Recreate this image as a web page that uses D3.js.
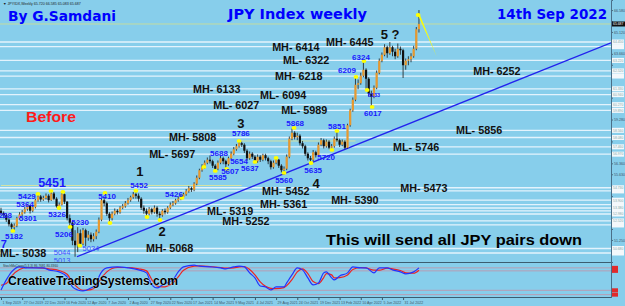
<!DOCTYPE html>
<html>
<head>
<meta charset="utf-8">
<script src="https://cdn.jsdelivr.net/npm/d3@7"></script>
<style>
html, body { margin: 0; padding: 0; background: #87ceeb; }
svg { display: block; font-family: "Liberation Sans", Arial, sans-serif; }
</style>
</head>
<body>
<svg id="chart" width="625" height="306"></svg>
<script>
// weekly JPY index, first bar = week of 1 Sep 2019
const firstWeek = '2019-09-01';
const firstOpen = 53.20;
const closes = [
  53.05, 52.90, 52.60, 52.30, 52.10, 52.20, 52.70, 52.95, 53.10, 53.30,
  53.55, 53.20, 53.45, 53.90, 54.15, 53.95, 54.05, 54.20, 53.90, 54.35,
  54.00, 53.50, 53.60, 54.30, 53.80, 52.70, 52.40, 51.20, 50.90, 51.70,
  51.00, 51.90, 51.40, 51.60, 51.30, 51.50, 51.80, 52.60, 53.90, 53.70,
  53.00, 52.70, 53.00, 53.20, 53.10, 53.40, 53.50, 53.70, 53.90, 54.10,
  54.30, 54.20, 54.00, 53.40, 53.20, 53.00, 53.30, 53.10, 53.40, 53.00,
  52.90, 53.20, 53.10, 53.40, 53.60, 53.70, 53.90, 54.00, 54.10, 54.30,
  54.50, 54.70, 54.60, 55.00, 55.40, 55.90, 56.10, 56.40, 56.60, 56.50,
  56.20, 56.00, 56.40, 56.70, 56.50, 56.30, 56.70, 57.00, 57.30, 57.50,
  57.70, 57.60, 57.20, 56.70, 57.00, 56.80, 56.50, 56.80, 56.60, 56.90,
  56.70, 56.50, 56.10, 56.40, 56.60, 56.20, 55.90, 56.00, 56.80, 58.00,
  58.40, 58.10, 58.20, 57.70, 57.50, 57.00, 56.70, 56.60, 57.10, 56.90,
  57.60, 57.90, 57.50, 57.80, 57.40, 57.50, 58.00, 57.90, 57.60, 57.80,
  57.40, 58.90, 59.90, 60.60, 61.60, 61.70, 62.20, 62.60, 62.00, 61.00,
  60.80, 61.40, 62.40, 63.20, 63.60, 64.10, 63.70, 64.10, 63.80, 63.50,
  64.00, 63.90, 62.90, 63.20, 63.30, 63.50, 64.00, 65.30, 65.65
];
const highs = [
  53.40, 53.15, 53.00, 52.70, 52.40, 52.35, 52.80, 53.10, 53.25, 53.45,
  53.64, 53.60, 53.55, 54.00, 54.29, 54.25, 54.20, 54.35, 54.30, 54.51,
  54.45, 54.10, 53.75, 54.40, 54.35, 53.85, 52.95, 52.50, 51.90, 52.10,
  51.95, 52.05, 52.00, 51.85, 51.75, 51.70, 51.95, 52.75, 54.00, 54.10,
  53.80, 53.10, 53.15, 53.35, 53.30, 53.50, 53.65, 53.85, 54.05, 54.20,
  54.45, 54.52, 54.35, 54.10, 53.55, 53.35, 53.45, 53.40, 53.55, 53.50,
  53.15, 53.30, 53.35, 53.50, 53.75, 53.85, 54.00, 54.15, 54.26, 54.40,
  54.65, 54.85, 54.80, 55.10, 55.55, 56.00, 56.30, 56.55, 56.75, 56.88,
  56.60, 56.30, 56.55, 56.85, 56.80, 56.60, 56.80, 57.15, 57.45, 57.65,
  57.86, 57.80, 57.70, 57.30, 57.15, 57.10, 56.90, 56.95, 56.90, 57.00,
  57.00, 56.80, 56.60, 56.55, 56.72, 56.65, 56.30, 56.15, 56.95, 58.15,
  58.68, 58.50, 58.40, 58.30, 57.85, 57.60, 57.10, 56.85, 57.25, 57.20,
  57.75, 58.05, 58.00, 57.95, 57.90, 57.65, 58.15, 58.51, 58.00, 57.95,
  57.90, 59.00, 60.00, 60.75, 62.09, 61.95, 62.40, 63.24, 62.70, 62.10,
  61.20, 61.55, 62.55, 63.35, 63.75, 64.30, 64.20, 64.45, 64.20, 64.00,
  64.35, 64.15, 64.00, 63.35, 63.50, 63.70, 64.20, 65.45, 66.58
];
const lows = [
  52.90, 52.70, 52.45, 52.15, 51.95, 51.82, 52.10, 52.60, 52.85, 53.00,
  53.20, 53.01, 53.10, 53.35, 53.80, 53.80, 53.85, 53.95, 53.75, 53.85,
  53.90, 53.40, 53.26, 53.55, 53.65, 52.55, 52.06, 50.90, 50.13, 50.44,
  50.85, 50.90, 50.85, 51.20, 51.10, 51.15, 51.30, 51.70, 52.50, 53.50,
  52.85, 52.38, 52.55, 52.90, 52.95, 53.00, 53.30, 53.40, 53.60, 53.80,
  54.00, 54.00, 53.80, 53.25, 53.00, 52.78, 52.90, 52.95, 53.00, 52.80,
  52.58, 52.80, 52.95, 53.00, 53.30, 53.50, 53.60, 53.80, 53.90, 54.00,
  54.20, 54.40, 54.45, 54.50, 54.90, 55.30, 55.80, 56.00, 56.30, 56.35,
  56.05, 55.85, 55.90, 56.30, 56.30, 56.07, 56.20, 56.60, 56.90, 57.20,
  57.40, 57.45, 57.05, 56.54, 56.60, 56.65, 56.37, 56.40, 56.45, 56.50,
  56.55, 56.30, 55.95, 56.00, 56.30, 56.05, 55.75, 55.60, 55.90, 56.70,
  57.90, 57.95, 57.90, 57.55, 57.35, 56.85, 56.55, 56.35, 56.50, 56.75,
  56.80, 57.50, 57.35, 57.40, 57.30, 57.20, 57.40, 57.80, 57.45, 57.50,
  57.30, 57.35, 58.80, 59.80, 60.50, 61.30, 61.60, 62.10, 61.33, 60.80,
  60.17, 60.70, 61.30, 62.30, 63.10, 63.50, 63.40, 63.60, 63.50, 63.30,
  63.40, 63.60, 62.05, 62.60, 62.90, 63.10, 63.40, 63.90, 65.08
];

// horizontal MH / ML levels: price, text, week where the text starts
const levelPrices = [64.45, 64.14, 63.22, 62.52, 62.18, 61.33, 60.94, 60.27, 59.89, 58.56, 58.08,
  57.46, 56.97, 54.73, 54.52, 53.90, 53.61, 53.19, 52.52, 50.68, 50.38];
const levelTexts = ['MH- 6445', 'MH- 6414', 'ML- 6322', 'MH- 6252', 'MH- 6218', 'MH- 6133', 'ML- 6094',
  'ML- 6027', 'ML- 5989', 'ML- 5856', 'MH- 5808', 'ML- 5746', 'ML- 5697', 'MH- 5473', 'MH- 5452',
  'MH- 5390', 'MH- 5361', 'ML- 5319', 'MH- 5252', 'MH- 5068', 'ML- 5038'];
const levelTextWeeks = [122.9, 102.5, 106.6, 178.5, 103.6, 72.6, 97.9, 80.2, 105.9, 172, 63.5,
  148.2, 56, 150.9, 98.7, 124.8, 97.9, 77.9, 83.6, 54.8, -0.4];
const extraLevels = [53.38, 52.98, 52.25];
const currentPrice = 65.65;

// short pale lines: price, from week, to week
const paleLines = [[54.88, 0, 91], [57.85, 90, 134]];

// blue pivot labels: text, week, price (text centre)
const pivotTexts = ['5429', '5364', '5288', '5301', '5326', '5182', '5230', '5206', '5410', '5452',
  '5426', '5688', '5786', '5654', '5607', '5585', '5637', '5560', '5868', '5720', '5635', '5851',
  '6017', '6209', '6324'];
const pivotWeeks = [9.8, 9.1, 0.8, 10.2, 21.2, 4.9, 29.9, 23.8, 40.1, 52.2,
  65.4, 82.4, 90.7, 90, 86.6, 82, 94.1, 107, 111.2, 122.9, 118, 127,
  140.6, 130.8, 136.1];
const pivotPrices = [54.18, 53.65, 52.92, 52.72, 52.98, 51.52, 52.45, 51.65, 54.18, 54.92,
  54.32, 57.05, 58.38, 56.52, 55.85, 55.45, 56.05, 55.25, 59.05, 56.78, 55.92, 58.85,
  59.72, 62.58, 63.45];
const faintTexts = [['5044', 23.1, 50.45], ['5013', 23.1, 49.92], ['5034', 34, 50.72]];
const bigPivot = ['5451', 19.3, 55.05];
const smallPivot = ['6133', 141, 60.92];

// yellow pivot dots: week, price
const dotWeeks = [4.5, 14, 18.9, 21.9, 23.4, 26.1, 29.8, 39.3, 41.2, 51, 55.2, 60.1, 68.4,
  76.7, 81, 85.3, 90, 96, 104, 107, 110.8, 117.2, 125.1, 127, 134.2, 137.2, 138.4, 140.3, 157.7];
const dotPrices = [51.85, 54.32, 54.52, 53.38, 54.45, 52.12, 50.87, 54.38, 52.38, 54.53, 52.78, 52.58, 54.05,
  56.12, 55.85, 55.98, 57.85, 56.45, 56.72, 55.72, 58.72, 56.38, 57.25, 58.52, 62.12, 63.18, 61.25, 60.12, 66.25];

// elliott wave counts: text, week, price
const waveTexts = ['1', '2', '3', '4', '5 ?'];
const waveWeeks = [52.5, 60.9, 90.7, 119.1, 147.1];
const wavePrices = [55.85, 51.85, 59.05, 55.05, 64.98];
const sevenMark = ['7', 1.1, 51.0];

const trendWeeks = [28.7, 230.6];
const trendPrices = [50.13, 64.40];
const spikeWeeks = [157.5, 158.6, 164.8];
const spikePrices = [66.30, 66.15, 63.45];

const priceTicks = [66.58, 65.85, 65.12, 64.39, 63.66, 62.93, 62.20, 61.47, 60.74, 60.01, 59.28,
  58.55, 57.82, 57.09, 56.36, 55.63, 54.90, 54.17, 53.44, 52.71, 51.98, 51.25, 50.52];
const dateTicks = ['2019-09-01', '2019-10-27', '2019-12-22', '2020-02-16', '2020-04-12', '2020-06-07',
  '2020-08-02', '2020-09-27', '2020-11-22', '2021-01-17', '2021-03-14', '2021-05-09', '2021-07-04',
  '2021-08-29', '2021-10-24', '2021-12-19', '2022-02-13', '2022-04-10', '2022-06-05', '2022-07-31'];

// stochastic panel
const oscWeeks = [0, 2, 4, 7, 10, 16, 18, 22, 25, 27, 29, 31, 34, 36, 37, 40, 44, 48, 52, 55, 57, 59,
  61, 65, 67, 69, 73, 75, 79, 83, 85, 88, 90, 92, 94, 96, 98, 100, 102, 104, 107, 108, 110, 112,
  114, 116, 118, 120, 122, 123, 125, 126, 128, 131, 133, 136, 138, 141, 143, 146, 148, 151, 153, 156, 158];
const oscFast = [21, 51, 75, 90, 87, 87, 81, 75, 60, 30, 21, 18, 27, 36, 60, 87, 90, 87, 81, 72, 36, 27,
  36, 51, 75, 90, 95, 92, 90, 87, 84, 90, 92, 90, 72, 57, 33, 30, 21, 30, 30, 42, 66, 87,
  81, 57, 36, 42, 72, 75, 57, 51, 63, 72, 90, 87, 87, 72, 87, 87, 81, 75, 69, 75, 87];
const oscSlow = [35, 40, 62, 82, 88, 86, 84, 79, 68, 45, 28, 20, 22, 30, 45, 75, 88, 88, 84, 78, 52, 33,
  30, 42, 60, 80, 92, 93, 91, 88, 86, 87, 90, 91, 82, 66, 45, 32, 26, 25, 28, 34, 52, 75,
  84, 70, 46, 40, 58, 70, 66, 57, 58, 66, 82, 88, 87, 80, 80, 86, 84, 79, 72, 71, 80];
const oscLevels = [87, 78, 20, 7];

const W = 625, H = 306;
const plotRight = 611, mainBottom = 262, oscTop = 263, oscBottom = 297;
const WEEK = 7 * 864e5;
const start = d3.timeParse('%Y-%m-%d')(firstWeek);
const atWeek = w => new Date(+start + w * WEEK);

const svg = d3.select('#chart');
const x = d3.scaleTime().domain([start, atWeek(230.6)]).range([1, plotRight]);
const y = d3.scaleLinear().domain([49.78, 67.25]).range([mainBottom, 0]);
const oy = d3.scaleLinear().domain([0, 100]).range([oscBottom, oscTop + 0.5]);

svg.append('rect').attr('width', W).attr('height', H).attr('fill', '#87ceeb');

const main = svg.append('g');
main.append('clipPath').attr('id', 'clipMain')
  .append('rect').attr('x', 0).attr('y', 0).attr('width', plotRight).attr('height', mainBottom);
const plot = main.append('g').attr('clip-path', 'url(#clipMain)');

// level lines
const allLevels = levelPrices.concat(extraLevels);
plot.selectAll('.lvl').data(allLevels).enter().append('line')
  .attr('x1', 0).attr('x2', plotRight)
  .attr('y1', d => y(d)).attr('y2', d => y(d))
  .attr('stroke', '#eef8ff').attr('stroke-width', 1.3).attr('opacity', 0.9);

plot.append('line')
  .attr('x1', 0).attr('x2', plotRight)
  .attr('y1', y(currentPrice)).attr('y2', y(currentPrice))
  .attr('stroke', '#c4dca0').attr('stroke-width', 1);

plot.selectAll('.pale').data(paleLines).enter().append('line')
  .attr('x1', d => x(atWeek(d[1]))).attr('x2', d => x(atWeek(d[2])))
  .attr('y1', d => y(d[0])).attr('y2', d => y(d[0]))
  .attr('stroke', '#e8e890').attr('stroke-width', 0.8);

// trend line
plot.append('line')
  .attr('x1', x(atWeek(trendWeeks[0]))).attr('y1', y(trendPrices[0]))
  .attr('x2', x(atWeek(trendWeeks[1]))).attr('y2', y(trendPrices[1]))
  .attr('stroke', '#2222ee').attr('stroke-width', 1.3);

// candles
const bars = closes.map((c, i) => {
  const o = i ? closes[i - 1] : firstOpen;
  return {
    date: atWeek(i), open: o, close: c,
    high: Math.max(highs[i], o, c), low: Math.min(lows[i], o, c)
  };
});
const candle = plot.selectAll('.bar').data(bars).enter().append('g');
candle.append('line')
  .attr('x1', d => x(d.date)).attr('x2', d => x(d.date))
  .attr('y1', d => y(d.high)).attr('y2', d => y(d.low))
  .attr('stroke', '#1a1a1a').attr('stroke-width', 0.8);
candle.append('rect')
  .attr('x', d => x(d.date) - 1.1)
  .attr('width', 2.2)
  .attr('y', d => y(Math.max(d.open, d.close)))
  .attr('height', d => Math.max(0.8, Math.abs(y(d.open) - y(d.close))))
  .attr('fill', d => d.close >= d.open ? '#e8992e' : '#111');

// spike wedge at the top
plot.append('polygon')
  .attr('points', spikeWeeks.map((w, i) => [x(atWeek(w)), y(spikePrices[i])].join(',')).join(' '))
  .attr('fill', '#ffff00');

// pivot dots
plot.selectAll('.dot').data(dotWeeks).enter().append('ellipse')
  .attr('cx', d => x(atWeek(d)))
  .attr('cy', (d, i) => y(dotPrices[i]))
  .attr('rx', 2.4).attr('ry', 1.9)
  .attr('fill', '#ffff00');

// level texts
plot.selectAll('.lvlText').data(levelTexts).enter().append('text')
  .attr('x', (d, i) => x(atWeek(levelTextWeeks[i])))
  .attr('y', (d, i) => y(levelPrices[i]))
  .attr('dy', '0.36em')
  .attr('font-size', 10.8).attr('font-weight', 'bold').attr('fill', '#111')
  .text(d => d);

// pivot labels
plot.selectAll('.pv').data(pivotTexts).enter().append('text')
  .attr('x', (d, i) => x(atWeek(pivotWeeks[i])))
  .attr('y', (d, i) => y(pivotPrices[i]))
  .attr('dy', '0.36em').attr('text-anchor', 'middle')
  .attr('font-size', 8).attr('font-weight', 'bold').attr('fill', '#1a1aff')
  .text(d => d);
plot.selectAll('.faint').data(faintTexts).enter().append('text')
  .attr('x', d => x(atWeek(d[1]))).attr('y', d => y(d[2]))
  .attr('dy', '0.36em').attr('text-anchor', 'middle')
  .attr('font-size', 7.5).attr('fill', '#3a4dff')
  .text(d => d[0]);
plot.append('text')
  .attr('x', x(atWeek(bigPivot[1]))).attr('y', y(bigPivot[2]))
  .attr('dy', '0.36em').attr('text-anchor', 'middle')
  .attr('font-size', 12.5).attr('font-weight', 'bold').attr('fill', '#1a1aff')
  .text(bigPivot[0]);
plot.append('text')
  .attr('x', x(atWeek(smallPivot[1]))).attr('y', y(smallPivot[2]))
  .attr('dy', '0.36em').attr('text-anchor', 'middle')
  .attr('font-size', 5.5).attr('font-weight', 'bold').attr('fill', '#1a1aff')
  .text(smallPivot[0]);

// wave counts
plot.selectAll('.wave').data(waveTexts).enter().append('text')
  .attr('x', (d, i) => x(atWeek(waveWeeks[i])))
  .attr('y', (d, i) => y(wavePrices[i]))
  .attr('dy', '0.36em').attr('text-anchor', 'middle')
  .attr('font-size', 13).attr('font-weight', 'bold').attr('fill', '#111')
  .text(d => d);
plot.append('text')
  .attr('x', x(atWeek(sevenMark[1]))).attr('y', y(sevenMark[2]))
  .attr('dy', '0.36em').attr('text-anchor', 'middle')
  .attr('font-size', 11).attr('font-weight', 'bold').attr('fill', '#1a1aff')
  .text(sevenMark[0]);

// titles and notes
const note = (txt, px, py, size, color, len, family) => main.append('text')
  .attr('x', px).attr('y', py)
  .attr('font-size', size).attr('font-weight', 'bold').attr('fill', color)
  .attr('font-family', family || null)
  .attr('textLength', len).attr('lengthAdjust', 'spacingAndGlyphs')
  .text(txt);
note('By G.Samdani', 8, 21, 14, '#0000ff', 108, '"DejaVu Sans", Verdana, sans-serif');
note('JPY Index weekly', 228, 19, 14, '#0000ff', 139, '"DejaVu Sans", Verdana, sans-serif');
note('14th Sep 2022', 497, 19, 14, '#0000ff', 110, '"DejaVu Sans", Verdana, sans-serif');
note('Before', 26, 121.5, 14, '#ff1a1a', 50);
note('This will send all JPY pairs down', 326, 245, 15.5, '#000', 256);

main.append('text').attr('x', 3).attr('y', 4.5)
  .attr('font-size', 3.6).attr('fill', '#222')
  .text('\u25BC JPYIDX,Weekly  65.720 66.585 65.083 65.687');

// panel frames
svg.append('line').attr('x1', 0).attr('x2', plotRight).attr('y1', mainBottom + 0.5).attr('y2', mainBottom + 0.5)
  .attr('stroke', '#3b5d70').attr('stroke-width', 1);
svg.append('line').attr('x1', 0).attr('x2', plotRight).attr('y1', oscBottom + 0.5).attr('y2', oscBottom + 0.5)
  .attr('stroke', '#3b5d70').attr('stroke-width', 1);

// right price axis; tick text hidden where a level box sits on top of it
const boxedPrices = allLevels.concat([currentPrice]);
const nearBox = v => boxedPrices.some(p => Math.abs(y(p) - y(v)) < 5);
const yAxis = svg.append('g').attr('transform', `translate(${plotRight},0)`)
  .call(d3.axisRight(y).tickValues(priceTicks).tickSize(2).tickFormat(d3.format('.3f')));
yAxis.select('.domain').attr('stroke', '#4a6f88');
yAxis.selectAll('.tick line').attr('stroke', '#4a6f88');
yAxis.selectAll('.tick text').attr('font-size', 3.6).attr('fill', '#3d5566').attr('x', 3)
  .style('display', d => nearBox(d) ? 'none' : null);
svg.append('line').attr('x1', plotRight + 0.5).attr('x2', plotRight + 0.5)
  .attr('y1', mainBottom).attr('y2', oscBottom + 1).attr('stroke', '#4a6f88');

// level boxes: only label a box when it does not touch the one above
const sortedLevels = allLevels.slice().sort((a, b) => b - a);
const boxes = svg.append('g');
boxes.selectAll('rect').data(sortedLevels).enter().append('rect')
  .attr('x', plotRight + 1).attr('y', d => y(d) - 2.5)
  .attr('width', 12).attr('height', 5).attr('fill', '#f4f8fb');
let lastLabelled = -100;
const labelled = sortedLevels.filter(d => {
  if (y(d) - lastLabelled < 5.5 || Math.abs(y(d) - y(currentPrice)) < 5.5) return false;
  lastLabelled = y(d);
  return true;
});
boxes.selectAll('text').data(labelled).enter().append('text')
  .attr('x', plotRight + 2).attr('y', d => y(d) + 1.3)
  .attr('font-size', 3.4).attr('fill', '#8aa')
  .text(d => d3.format('.3f')(d));
svg.append('rect').attr('x', plotRight + 1).attr('y', y(currentPrice) - 2.5)
  .attr('width', 13).attr('height', 5).attr('fill', '#111');
svg.append('text').attr('x', plotRight + 2).attr('y', y(currentPrice) + 1.3)
  .attr('font-size', 3.4).attr('fill', '#fff').text('65.687');

// oscillator panel
const osc = svg.append('g');
osc.selectAll('.olvl').data(oscLevels).enter().append('line')
  .attr('x1', 0).attr('x2', plotRight)
  .attr('y1', d => oy(d)).attr('y2', d => oy(d))
  .attr('stroke', '#b79db3').attr('stroke-width', 1);
osc.selectAll('.obox').data(oscLevels).enter().append('rect')
  .attr('x', plotRight + 1).attr('y', d => oy(d) - 2)
  .attr('width', 6).attr('height', 4).attr('fill', '#e02a2a');

const oscLine = vals => d3.line()
  .x((d, i) => x(atWeek(oscWeeks[i])))
  .y(d => oy(d))
  .curve(d3.curveMonotoneX)(vals);
osc.append('path').attr('d', oscLine(oscSlow))
  .attr('fill', 'none').attr('stroke', '#ee2222').attr('stroke-width', 1.2);
osc.append('path').attr('d', oscLine(oscFast))
  .attr('fill', 'none').attr('stroke', '#2233ff').attr('stroke-width', 1.2);

osc.append('text').attr('x', 3).attr('y', oscTop + 3.8)
  .attr('font-size', 3.2).attr('fill', '#333')
  .text('StochMaCross(5,3,3) 86.7681 80.3360');
osc.append('text').attr('x', 8).attr('y', 285)
  .attr('font-size', 13).attr('font-weight', 'bold').attr('fill', '#000')
  .attr('stroke', '#cfe9f5').attr('stroke-width', 0.6).attr('paint-order', 'stroke')
  .attr('textLength', 170).attr('lengthAdjust', 'spacingAndGlyphs')
  .text('CreativeTradingSystems.com');

// date axis
const parseDay = d3.timeParse('%Y-%m-%d');
const xAxis = svg.append('g').attr('transform', `translate(0,${oscBottom + 1})`)
  .call(d3.axisBottom(x).tickValues(dateTicks.map(parseDay)).tickSize(2)
    .tickFormat(d3.timeFormat('%-d %b %Y')));
xAxis.select('.domain').remove();
xAxis.selectAll('.tick line').attr('stroke', '#3d5566');
xAxis.selectAll('.tick text').attr('font-size', 3.6).attr('fill', '#3d5566')
  .attr('text-anchor', 'start').attr('x', 1).attr('y', 3);
</script>
</body>
</html>
